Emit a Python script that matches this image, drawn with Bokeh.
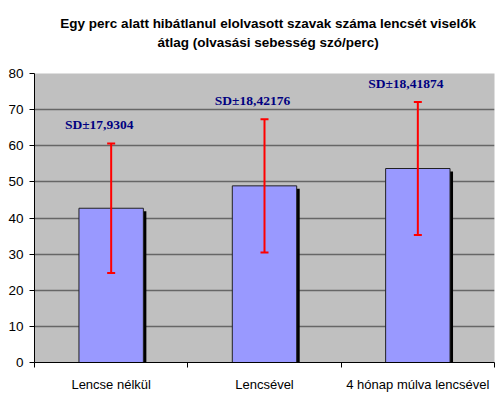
from bokeh.plotting import figure
from bokeh.layouts import column
from bokeh.models import ColumnDataSource, Whisker, TeeHead, FixedTicker, Range1d, LabelSet
from bokeh.core.properties import value
from bokeh.embed import file_html
from bokeh.resources import INLINE

categories = ["Lencse nélkül", "Lencsével", "4 hónap múlva lencsével"]
means = [42.7, 48.9, 53.7]
sds = [17.9304, 18.42176, 18.41874]
sd_labels = ["SD±17,9304", "SD±18,42176", "SD±18,41874"]
y_ticks = [0, 10, 20, 30, 40, 50, 60, 70, 80]
title_lines = ["Egy perc alatt hibátlanul elolvasott szavak száma lencsét viselők",
               "átlag (olvasási sebesség szó/perc)"]

xs = [i + 0.5 for i in range(len(categories))]
upper = [m + s for m, s in zip(means, sds)]
lower = [m - s for m, s in zip(means, sds)]

W, H = 500, 397
TH = 61                      # title strip height
BL, BR, BT, BB = 34, 6, 12, 35
PH = H - TH
frame_w = W - BL - BR
frame_h = PH - BT - BB
px_x = len(categories) / frame_w
px_y = 80 / frame_h

# ---- title strip ----
tfig = figure(width=W, height=TH, output_backend="svg", toolbar_location=None,
              x_range=Range1d(0, W), y_range=Range1d(TH, 0),
              x_axis_location=None, y_axis_location=None, min_border=0)
tfig.outline_line_color = None
tfig.grid.visible = False
tfig.background_fill_color = "white"
tsrc = ColumnDataSource(dict(x=[254, 254], y=[23, 42], t=title_lines))
tfig.text(x="x", y="y", text="t", source=tsrc, text_align="center", text_baseline="middle",
          text_font=value("Liberation Sans"), text_font_size="13.5px",
          text_font_style="bold", text_color="black")

# ---- main chart ----
src = ColumnDataSource(dict(
    x=xs, top=means, up=upper, lo=lower, lab=sd_labels,
    sx=[x + 3 * px_x for x in xs],
    stop=[m - 3 * px_y for m in means],
))

p = figure(width=W, height=PH, output_backend="svg", toolbar_location=None,
           x_range=Range1d(0, len(categories)), y_range=Range1d(0, 80),
           min_border_left=BL, min_border_right=BR, min_border_top=BT, min_border_bottom=BB)
p.background_fill_color = "#C0C0C0"
p.border_fill_color = "white"
p.outline_line_color = None

p.xgrid.visible = False
p.ygrid.ticker = FixedTicker(ticks=y_ticks)
p.ygrid.grid_line_color = "#666666"
p.ygrid.grid_line_width = 1.5

p.vbar(x="sx", top="stop", width=0.42, bottom=0, source=src, fill_color="black", line_color=None)
p.vbar(x="x", top="top", width=0.42, bottom=0, source=src, fill_color="#9999FF",
       line_color="#222222", line_width=1)

w = Whisker(base="x", upper="up", lower="lo", source=src, line_color="#FF0000", line_width=2,
            upper_head=TeeHead(size=8, line_color="#FF0000", line_width=2),
            lower_head=TeeHead(size=8, line_color="#FF0000", line_width=2),
            level="overlay")
p.add_layout(w)

labels = LabelSet(x="x", y="up", text="lab", source=src, x_offset=-12, y_offset=11,
                  text_align="center", text_baseline="bottom",
                  text_font="Liberation Serif", text_font_style="bold", text_font_size="13.5px",
                  text_color="#000080")
p.add_layout(labels)

p.yaxis.ticker = FixedTicker(ticks=y_ticks)
p.yaxis.axis_line_color = "black"
p.yaxis.major_tick_line_color = "black"
p.yaxis.major_tick_out = 5
p.yaxis.major_tick_in = 0
p.yaxis.minor_tick_line_color = None
p.yaxis.major_label_standoff = 6
p.yaxis.major_label_text_font = "Liberation Sans"
p.yaxis.major_label_text_font_size = "13.5px"
p.yaxis.major_label_text_color = "black"

p.xaxis.ticker = FixedTicker(ticks=xs, minor_ticks=list(range(len(categories) + 1)))
p.xaxis.major_label_overrides = {x: c for x, c in zip(xs, categories)}
p.xaxis.axis_line_color = "black"
p.xaxis.major_tick_line_color = None
p.xaxis.minor_tick_line_color = "black"
p.xaxis.minor_tick_out = 5
p.xaxis.minor_tick_in = 0
p.xaxis.major_label_standoff = 8
p.xaxis.major_label_text_font = "Liberation Sans"
p.xaxis.major_label_text_font_size = "13px"
p.xaxis.major_label_text_color = "black"

layout = column(tfig, p, spacing=0)
open("out.html", "w").write(file_html(layout, INLINE))
